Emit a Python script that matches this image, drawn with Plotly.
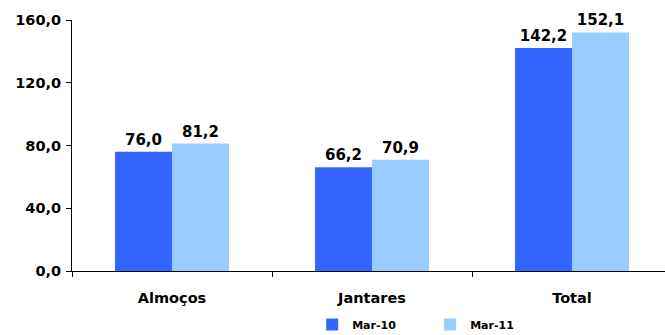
import plotly.graph_objects as go

categories = ["Almoços", "Jantares", "Total"]
mar10 = [76.0, 66.2, 142.2]
mar11 = [81.2, 70.9, 152.1]
series_names = ["Mar-10", "Mar-11"]
series_colors = ["#3366FF", "#99CCFF"]
y_ticks = [0, 40, 80, 120, 160]
y_tick_labels = ["0,0", "40,0", "80,0", "120,0", "160,0"]

font_family = "DejaVu Sans, Verdana, sans-serif"
label_font = dict(size=14.5, family=font_family, color="#000000", weight="bold")

fig = go.Figure()
for name, vals, color, leg in [(series_names[0], mar10, series_colors[0], "legend"),
                               (series_names[1], mar11, series_colors[1], "legend2")]:
    fig.add_trace(go.Bar(
        x=categories, y=vals, name=name, legend=leg,
        marker=dict(color=color, line=dict(width=0)),
        texttemplate="%{y:.1f}", textposition="outside",
        textfont=dict(size=15, color="#000000", family=font_family, weight="bold"),
        cliponaxis=False,
    ))

legend_common = dict(orientation="h", xanchor="left", y=-0.155, yanchor="top",
                     font=dict(size=11, family=font_family, color="#000000", weight="bold"),
                     itemwidth=30, bgcolor="rgba(0,0,0,0)")

fig.update_layout(
    width=665, height=335,
    margin=dict(l=72, r=0, t=20, b=64, autoexpand=False),
    paper_bgcolor="white", plot_bgcolor="white",
    separators=",.",
    barmode="group", bargap=0.43, bargroupgap=0,
    font=dict(family=font_family, color="#000000"),
    showlegend=True,
    legend=dict(x=0.405, **legend_common),
    legend2=dict(x=0.604, **legend_common),
    xaxis=dict(range=[-0.5, 2.465], showline=True, linecolor="#000000", linewidth=1,
               ticks="outside", tickson="boundaries", ticklen=5, tickcolor="#000000",
               tickfont=label_font, ticklabelstandoff=14, showgrid=False, automargin=False),
    yaxis=dict(range=[0, 160], tickvals=y_ticks, ticktext=y_tick_labels,
               showline=True, linecolor="#000000", linewidth=1,
               ticks="outside", ticklen=5, tickcolor="#000000",
               tickfont=label_font, ticklabelstandoff=2, showgrid=False, zeroline=False,
               automargin=False),
)

fig.write_html("out.html")
